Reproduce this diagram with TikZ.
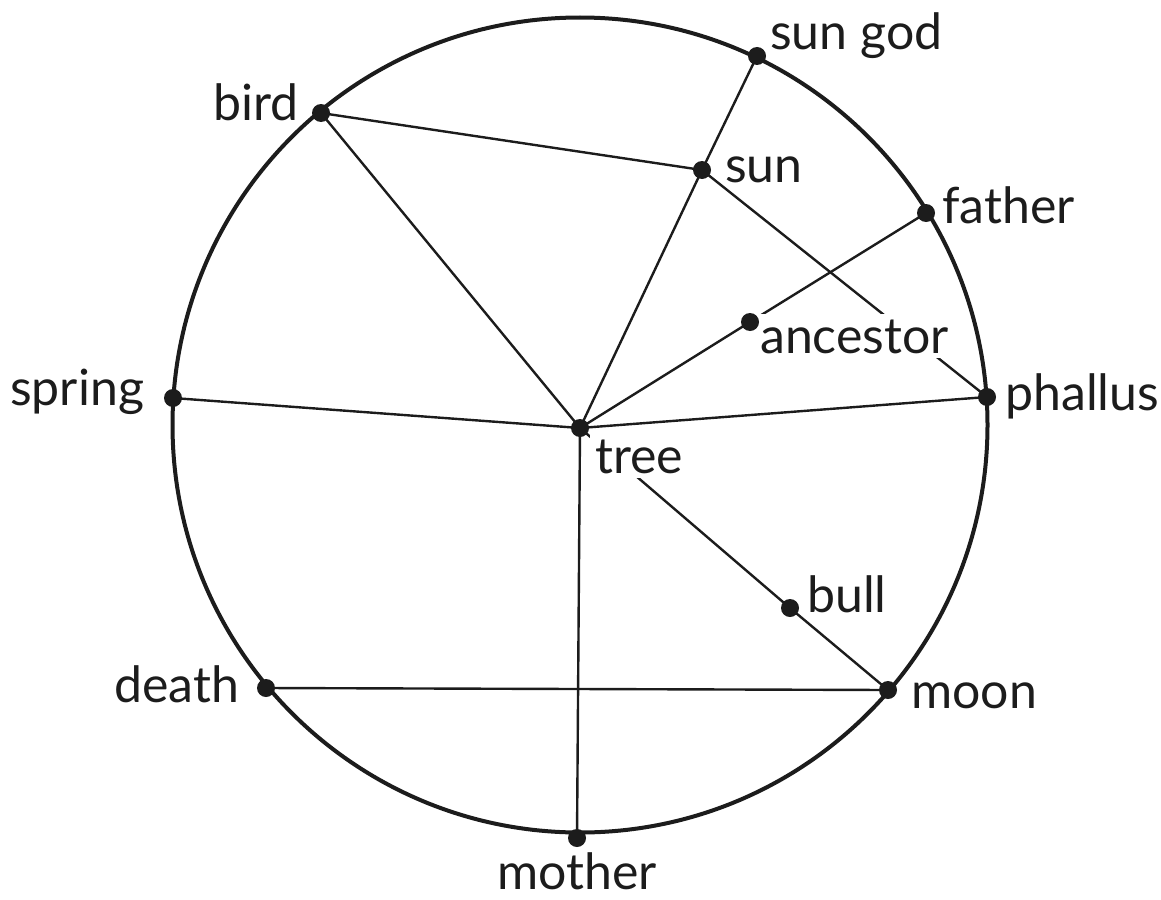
\documentclass[tikz,border=0pt]{standalone}
\usepackage{fontspec}
\setmainfont{Lato}
\definecolor{ink}{HTML}{1C1C1C}
\begin{document}
\begin{tikzpicture}[x=1pt,y=-1pt,
  dot/.style={circle,fill=ink,draw=none,minimum size=18pt,inner sep=0pt},
  lbl/.style={anchor=base west,inner sep=0pt,font=\fontsize{50}{58}\selectfont,text=ink},
  masklbl/.style={lbl,fill=white,inner sep=5pt},
  link/.style={draw=ink,line width=2.4pt},
  rim/.style={draw=ink,line width=4pt}]
\useasboundingbox (0,0) rectangle (1161,899);
% dot positions
\coordinate (sungod)   at (757,56);
\coordinate (bird)     at (321,113);
\coordinate (sun)      at (702,170);
\coordinate (father)   at (926,213);
\coordinate (ancestor) at (750,322);
\coordinate (phallus)  at (987,397);
\coordinate (spring)   at (173,398);
\coordinate (tree)     at (580,428);
\coordinate (bull)     at (790,608);
\coordinate (moon)     at (888,690);
\coordinate (death)    at (266,688);
\coordinate (mother)   at (577,838);
% rim
\coordinate (c) at (580,425);
\draw[rim] (c) circle[radius=407.5pt];
% links
\draw[link] (bird) -- (sun);
\draw[link] (bird) -- (tree);
\draw[link] (sungod) -- (sun);
\draw[link] (sun) -- (tree);
\draw[link] (sun) -- (phallus);
\draw[link] (father) -- (ancestor);
\draw[link] (ancestor) -- (tree);
\draw[link] (spring) -- (tree);
\draw[link] (tree) -- (phallus);
\draw[link] (tree) -- (mother);
\draw[link] (tree) -- (bull);
\draw[link] (bull) -- (moon);
\draw[link] (death) -- (moon);
% labels
\node[lbl] (lsungod) at (770,50) {sun god};
\node[lbl] (lbird) at (213,120) {bird};
\node[lbl] (lsun) at (725,182) {sun};
\node[lbl] (lfather) at (942,223) {father};
\node[masklbl] (lancestor) at (755,353) {ancestor};
\node[lbl] (lphallus) at (1005,410) {phallus};
\node[lbl] (lspring) at (10,405) {spring};
\node[masklbl] (ltree) at (590,473) {tree};
\node[lbl] (lbull) at (807,612) {bull};
\node[lbl] (lmoon) at (911,708) {moon};
\node[lbl] (ldeath) at (114,702) {death};
\node[lbl] (lmother) at (497,889) {mother};
% dots on top
\foreach \n in {sungod,bird,sun,father,ancestor,phallus,spring,tree,bull,moon,death,mother}
  \node[dot] (d\n) at (\n) {};
\end{tikzpicture}
\end{document}
